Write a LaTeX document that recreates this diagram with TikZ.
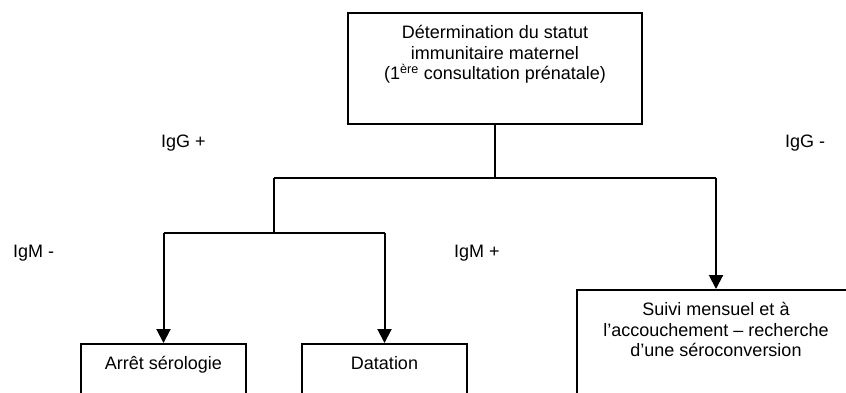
\documentclass[tikz,border=0pt]{standalone}
\usepackage{fontspec}
\setmainfont{Liberation Sans}
\usetikzlibrary{arrows.meta}
\tikzset{
  conn/.style={line width=2pt},
  arr/.style={line width=2pt,-{Triangle[length=14pt,width=14pt]}},
  boxnode/.style={draw,line width=2pt,inner sep=0pt,anchor=north},
  lbl/.style={inner sep=0pt,anchor=base west,font=\fontsize{18}{20.7}\selectfont}
}
\newcommand{\boxtext}[3]{\parbox[c][#2][t]{#1}{\fontsize{18}{20.7}\selectfont\centering\vspace*{11pt}#3\par}}
\begin{document}
\begin{tikzpicture}[x=1pt,y=1pt]
\useasboundingbox (0,0) rectangle (846,-392);
\node[boxnode] (top) at (495,-12) {\boxtext{294pt}{111pt}{\strut D\'etermination du statut\\ immunitaire maternel\\ (1\textsuperscript{\`ere} consultation pr\'enatale)}};
\node[boxnode] (arret) at (163.5,-343) {\boxtext{165pt}{90pt}{\strut Arr\^et s\'erologie}};
\node[boxnode] (dat) at (384.5,-343) {\boxtext{165pt}{90pt}{\strut Datation}};
\node[boxnode] (suivi) at (716,-289) {\boxtext{278pt}{140pt}{\strut Suivi mensuel et \`a\\ l'accouchement -- recherche\\ d'une s\'eroconversion}};
\coordinate (j1) at (495,-178);
\coordinate (jL) at (274,-178);
\coordinate (jR) at (716,-178);
\coordinate (k1) at (274,-233);
\coordinate (kL) at (163.5,-233);
\coordinate (kR) at (384.5,-233);
\draw[conn] (top.south) -- (j1);
\draw[conn] (jL) -- (jR);
\draw[arr] (jR) -- (suivi.north);
\draw[conn] (jL) -- (k1);
\draw[conn] (kL) -- (kR);
\draw[arr] (kL) -- (arret.north);
\draw[arr] (kR) -- (dat.north);
\node[lbl] (igGp) at (161,-147) {IgG +};
\node[lbl] (igGm) at (785,-147) {IgG -};
\node[lbl] (igMm) at (13,-257) {IgM -};
\node[lbl] (igMp) at (454,-257) {IgM +};
\end{tikzpicture}
\end{document}
